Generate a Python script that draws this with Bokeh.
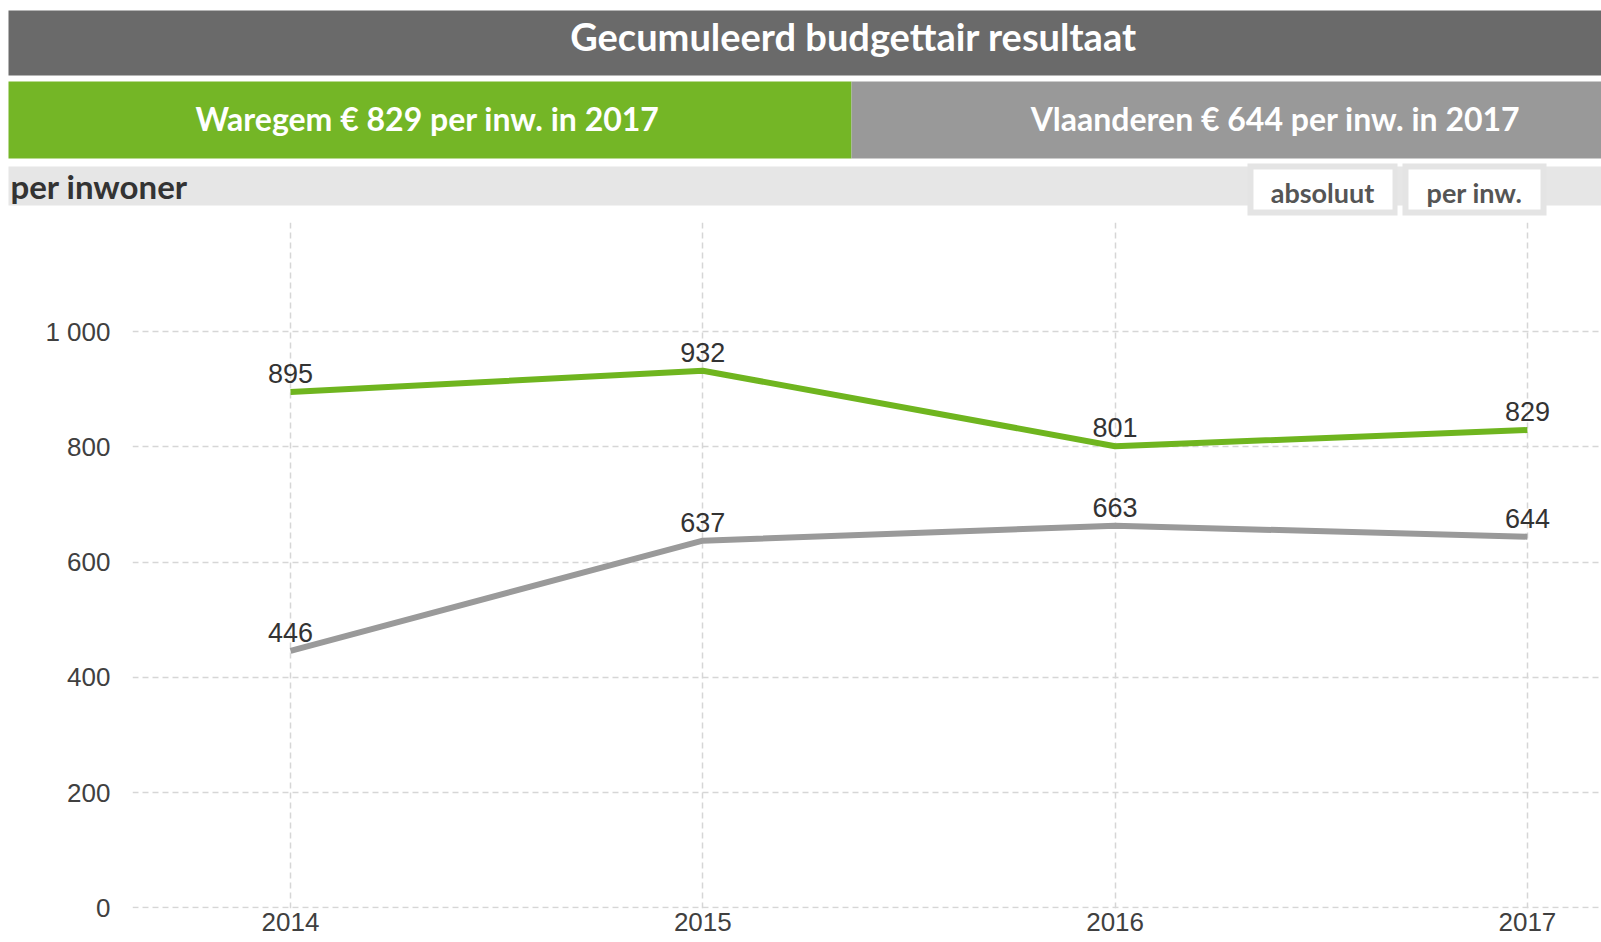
from bokeh.plotting import figure
from bokeh.models import Range1d, FixedTicker, ColumnDataSource, LabelSet
from bokeh.core.properties import value
from bokeh.embed import file_html
from bokeh.resources import INLINE

# ---------------- data ----------------
years = [2014, 2015, 2016, 2017]
waregem = [895, 932, 801, 829]
vlaanderen = [446, 637, 663, 644]
year_labels = ["2014", "2015", "2016", "2017"]
y_ticks = [0, 200, 400, 600, 800, 1000]
y_tick_labels = ["0", "200", "400", "600", "800", "1 000"]

title_text = "Gecumuleerd budgettair resultaat"
left_box_text = "Waregem € 829 per inw. in 2017"
right_box_text = "Vlaanderen € 644 per inw. in 2017"
unit_text = "per inwoner"
button_texts = ["absoluut", "per inw."]

GREEN = "#74b626"
GREY = "#999999"
DARK = "#6a6a6a"
LIGHT = "#e6e6e6"

W = 1601
H_HEAD = 216
H_CHART = 942 - H_HEAD

# ---------------- header (pixel coordinates) ----------------
h = figure(width=W, height=H_HEAD, x_range=Range1d(0, W), y_range=Range1d(H_HEAD, 0),
           output_backend="svg", toolbar_location=None, min_border=0)
h.axis.visible = False
h.grid.visible = False
h.outline_line_color = None
h.background_fill_color = "white"
h.border_fill_color = "white"

h.quad(left=[8], right=[1700], top=[10], bottom=[75], fill_color=DARK, line_color=None)
h.quad(left=[8], right=[851], top=[81], bottom=[158], fill_color=GREEN, line_color=None)
h.quad(left=[851], right=[1700], top=[81], bottom=[158], fill_color=GREY, line_color=None)
h.quad(left=[8], right=[1700], top=[166], bottom=[205], fill_color=LIGHT, line_color=None)

h.text(x=[853], y=[35], text=[title_text], text_color="white", text_font=value("Lato"),
       text_font_style="bold", text_font_size="38px", text_align="center", text_baseline="middle")
h.text(x=[427], y=[118], text=[left_box_text], text_color="white", text_font=value("Lato"),
       text_font_style="bold", text_font_size="32px", text_align="center", text_baseline="middle")
h.text(x=[1275], y=[118], text=[right_box_text], text_color="white", text_font=value("Lato"),
       text_font_style="bold", text_font_size="32px", text_align="center", text_baseline="middle")
h.text(x=[10], y=[185], text=[unit_text], text_color="#333333", text_font=value("Lato"),
       text_font_style="bold", text_font_size="33px", text_align="left", text_baseline="middle")

# buttons
h.quad(left=[1247, 1402], right=[1397, 1546], top=[163, 163], bottom=[215, 215],
       fill_color="#e4e4e4", line_color=None)
h.quad(left=[1253, 1408], right=[1392, 1540], top=[169, 169], bottom=[209, 209],
       fill_color="white", line_color=None)
h.text(x=[1322, 1474], y=[192, 192], text=button_texts, text_color="#555555", text_font=value("Lato"),
       text_font_style="bold", text_font_size="27px", text_align="center", text_baseline="middle")

# ---------------- chart ----------------
px_per_year = 412.3
frame_left = 132
x_start = 2014 - (290 - frame_left) / px_per_year
x_end = x_start + (W - frame_left) / px_per_year

px_per_unit = 0.5763
border_bottom = 34
frame_h = H_CHART - 6 - border_bottom
y_start = -1.2
y_end = y_start + frame_h / px_per_unit

p = figure(width=W, height=H_CHART, x_range=Range1d(x_start, x_end), y_range=Range1d(y_start, y_end),
           output_backend="svg", toolbar_location=None,
           min_border_left=frame_left, min_border_right=0, min_border_top=6,
           min_border_bottom=border_bottom)
p.outline_line_color = None
p.background_fill_color = "white"
p.border_fill_color = "white"

p.xaxis.ticker = FixedTicker(ticks=years)
p.xaxis.major_label_overrides = {yr: lab for yr, lab in zip(years, year_labels)}
p.yaxis.ticker = FixedTicker(ticks=y_ticks)
p.yaxis.major_label_overrides = {t: lab for t, lab in zip(y_ticks, y_tick_labels)}
for ax in (p.xaxis, p.yaxis):
    ax.axis_line_color = None
    ax.major_tick_line_color = None
    ax.minor_tick_line_color = None
    ax.major_tick_out = 0
    ax.major_tick_in = 0
    ax.major_label_text_font = "Liberation Sans"
    ax.major_label_text_font_size = "26px"
    ax.major_label_text_color = "#404040"
p.yaxis.major_label_standoff = 22
p.xaxis.major_label_standoff = 4

for g in (p.xgrid, p.ygrid):
    g.grid_line_color = "#d6d6d6"
    g.grid_line_dash = "6 4"
    g.grid_line_width = 1.5

src_w = ColumnDataSource(dict(x=years, y=waregem, label=[str(v) for v in waregem]))
src_v = ColumnDataSource(dict(x=years, y=vlaanderen, label=[str(v) for v in vlaanderen]))

p.line("x", "y", source=src_v, line_color="#9a9a9a", line_width=6)
p.line("x", "y", source=src_w, line_color="#6fb51f", line_width=6)

for src in (src_w, src_v):
    p.add_layout(LabelSet(x="x", y="y", text="label", source=src, text_align="center",
                          text_baseline="bottom", y_offset=9, text_font=value("Liberation Sans"),
                          text_font_size="27px", text_color="#333333"))

open("out.html", "w").write(file_html([h, p], INLINE))
